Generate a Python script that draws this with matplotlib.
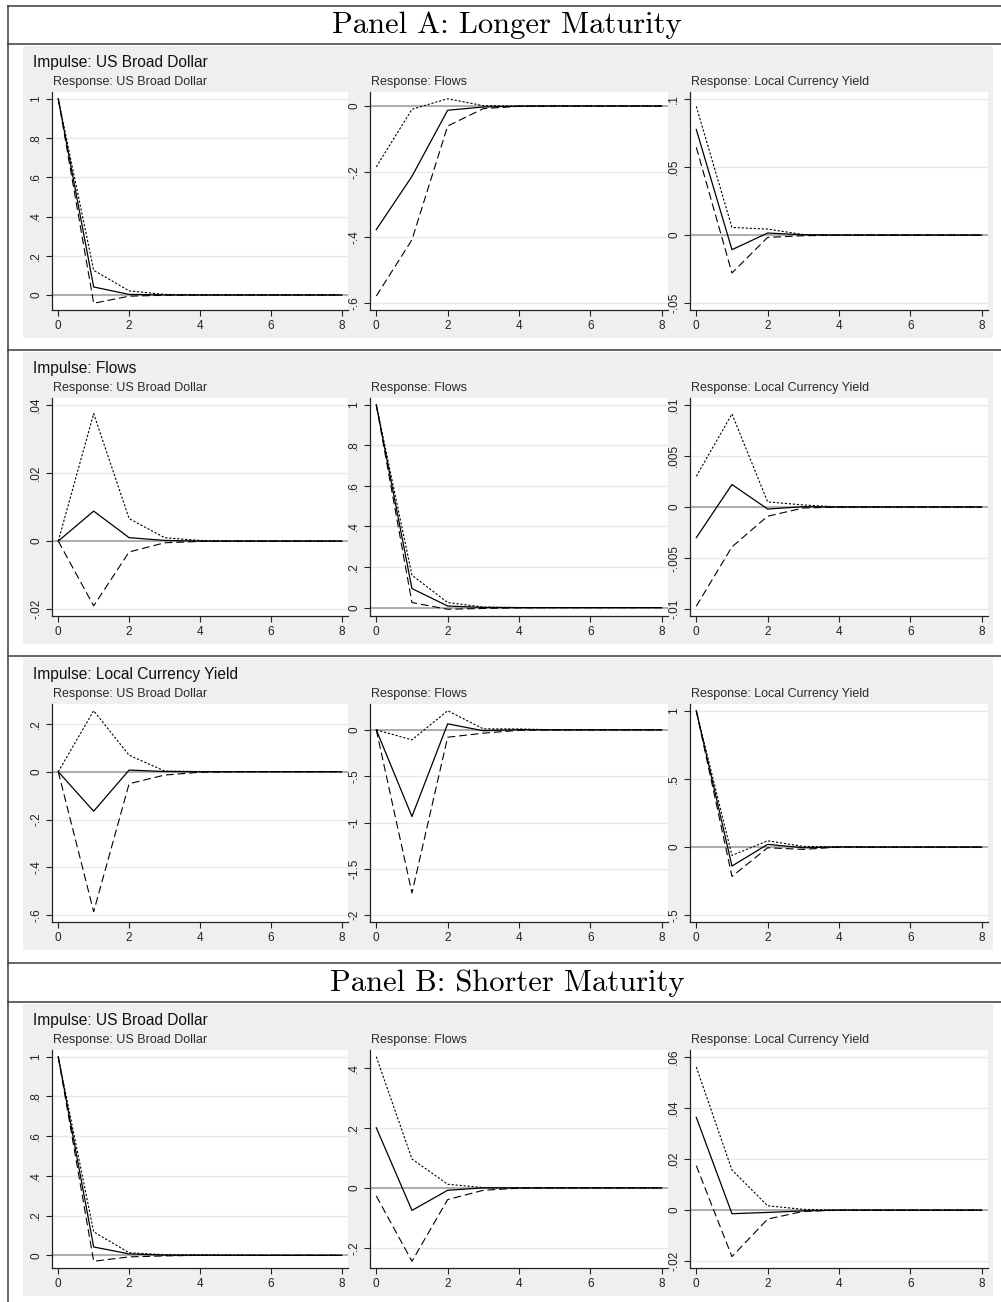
#Impulse response grid (Stata-style) rebuilt with matplotlib
import numpy as np
import matplotlib.pyplot as plt
from matplotlib.patches import Rectangle

plt.rcParams['font.family'] = ['Liberation Sans', 'DejaVu Sans']

horizon = np.arange(9)

#Panel A, impulse: US Broad Dollar
a_usd_usd = [1, 0.041, 0.003, 0.0005, 0, 0, 0, 0, 0]
a_usd_usd_hi = [1, 0.126, 0.021, 0.003, 0.0005, 0, 0, 0, 0]
a_usd_usd_lo = [1, -0.042, -0.006, -0.001, 0, 0, 0, 0, 0]
a_usd_flows = [-0.376, -0.214, -0.013, -0.003, -0.0005, 0, 0, 0, 0]
a_usd_flows_hi = [-0.185, -0.010, 0.022, 0.001, 0, 0, 0, 0, 0]
a_usd_flows_lo = [-0.578, -0.407, -0.061, -0.008, -0.001, 0, 0, 0, 0]
a_usd_lcy = [0.0775, -0.0107, 0.0015, 0.0002, 0, 0, 0, 0, 0]
a_usd_lcy_hi = [0.0944, 0.0056, 0.0044, 0.0004, 0, 0, 0, 0, 0]
a_usd_lcy_lo = [0.0644, -0.0278, -0.0017, -0.0005, 0, 0, 0, 0, 0]

#Panel A, impulse: Flows
a_flows_usd = [0, 0.0088, 0.001, 0.0002, 0, 0, 0, 0, 0]
a_flows_usd_hi = [0, 0.0374, 0.0066, 0.001, 0.0002, 0, 0, 0, 0]
a_flows_usd_lo = [0, -0.019, -0.0032, -0.0005, -0.0001, 0, 0, 0, 0]
a_flows_flows = [1, 0.094, 0.008, 0.001, 0, 0, 0, 0, 0]
a_flows_flows_hi = [1, 0.16, 0.025, 0.003, 0.0005, 0, 0, 0, 0]
a_flows_flows_lo = [1, 0.025, -0.008, -0.004, -0.001, 0, 0, 0, 0]
a_flows_lcy = [-0.0030, 0.0022, -0.0002, 0.00003, 0, 0, 0, 0, 0]
a_flows_lcy_hi = [0.003, 0.0091, 0.0005, 0.0002, 0, 0, 0, 0, 0]
a_flows_lcy_lo = [-0.0097, -0.0039, -0.0009, -0.0001, 0, 0, 0, 0, 0]

#Panel A, impulse: Local Currency Yield
a_lcy_usd = [0, -0.165, 0.007, 0.001, 0, 0, 0, 0, 0]
a_lcy_usd_hi = [0, 0.255, 0.069, 0.003, 0.001, 0, 0, 0, 0]
a_lcy_usd_lo = [0, -0.585, -0.05, -0.014, -0.002, 0, 0, 0, 0]
a_lcy_flows = [0, -0.935, 0.065, -0.01, 0.002, 0, 0, 0, 0]
a_lcy_flows_hi = [0, -0.108, 0.206, 0.011, 0.01, 0, 0, 0, 0]
a_lcy_flows_lo = [0, -1.76, -0.08, -0.036, -0.005, 0, 0, 0, 0]
a_lcy_lcy = [1, -0.139, 0.02, -0.005, 0.001, 0, 0, 0, 0]
a_lcy_lcy_hi = [1, -0.061, 0.046, 0.005, 0.002, 0, 0, 0, 0]
a_lcy_lcy_lo = [1, -0.215, -0.005, -0.017, 0, 0, 0, 0, 0]

#Panel B, impulse: US Broad Dollar
b_usd_usd = [1, 0.042, 0.007, 0.001, 0, 0, 0, 0, 0]
b_usd_usd_hi = [1, 0.118, 0.013, 0.003, 0.003, 0.001, 0, 0, 0]
b_usd_usd_lo = [1, -0.03, -0.008, -0.003, 0, 0, 0, 0, 0]
b_usd_flows = [0.2, -0.075, -0.008, 0, 0, 0, 0, 0, 0]
b_usd_flows_hi = [0.436, 0.096, 0.012, 0.001, 0, 0, 0, 0, 0]
b_usd_flows_lo = [-0.027, -0.244, -0.039, -0.008, -0.001, 0, 0, 0, 0]
b_usd_lcy = [0.0363, -0.0014, -0.0009, -0.0003, 0, 0, 0, 0, 0]
b_usd_lcy_hi = [0.056, 0.0157, 0.0017, 0.0003, 0, 0, 0, 0, 0]
b_usd_lcy_lo = [0.0174, -0.0182, -0.0035, -0.0005, 0, 0, 0, 0, 0]

#y ticks of each panel
ticks_unit = [0, 0.2, 0.4, 0.6, 0.8, 1]
ticks_a_usd_flows = [-0.6, -0.4, -0.2, 0]
ticks_a_usd_lcy = [-0.05, 0, 0.05, 0.1]
ticks_a_flows_usd = [-0.02, 0, 0.02, 0.04]
ticks_a_flows_lcy = [-0.01, -0.005, 0, 0.005, 0.01]
ticks_a_lcy_usd = [-0.6, -0.4, -0.2, 0, 0.2]
ticks_a_lcy_flows = [-2, -1.5, -1, -0.5, 0]
ticks_a_lcy_lcy = [-0.5, 0, 0.5, 1]
ticks_b_usd_flows = [-0.2, 0, 0.2, 0.4]
ticks_b_usd_lcy = [-0.02, 0, 0.02, 0.04, 0.06]

responses = ['US Broad Dollar', 'Flows', 'Local Currency Yield']

rows = [
    ('Impulse: US Broad Dollar', [
        (a_usd_usd, a_usd_usd_hi, a_usd_usd_lo, ticks_unit),
        (a_usd_flows, a_usd_flows_hi, a_usd_flows_lo, ticks_a_usd_flows),
        (a_usd_lcy, a_usd_lcy_hi, a_usd_lcy_lo, ticks_a_usd_lcy)]),
    ('Impulse: Flows', [
        (a_flows_usd, a_flows_usd_hi, a_flows_usd_lo, ticks_a_flows_usd),
        (a_flows_flows, a_flows_flows_hi, a_flows_flows_lo, ticks_unit),
        (a_flows_lcy, a_flows_lcy_hi, a_flows_lcy_lo, ticks_a_flows_lcy)]),
    ('Impulse: Local Currency Yield', [
        (a_lcy_usd, a_lcy_usd_hi, a_lcy_usd_lo, ticks_a_lcy_usd),
        (a_lcy_flows, a_lcy_flows_hi, a_lcy_flows_lo, ticks_a_lcy_flows),
        (a_lcy_lcy, a_lcy_lcy_hi, a_lcy_lcy_lo, ticks_a_lcy_lcy)]),
    ('Impulse: US Broad Dollar', [
        (b_usd_usd, b_usd_usd_hi, b_usd_usd_lo, ticks_unit),
        (b_usd_flows, b_usd_flows_hi, b_usd_flows_lo, ticks_b_usd_flows),
        (b_usd_lcy, b_usd_lcy_hi, b_usd_lcy_lo, ticks_b_usd_lcy)]),
]


def stata_fmt(v):
    s = '%g' % v
    if s.startswith('0.'):
        s = s[1:]
    elif s.startswith('-0.'):
        s = '-' + s[2:]
    return s


W, H = 1001, 1302
fig = plt.figure(figsize=(W / 100, H / 100), dpi=100)

#background layer in pixel coordinates
bg = fig.add_axes([0, 0, 1, 1])
bg.set_xlim(0, W)
bg.set_ylim(H, 0)
bg.axis('off')

frame_col = '#3c3c3c'
row_tops = [44, 350, 656, 1002]
col_edges = [(52, 348), (370, 668), (690, 988)]

for y in [6, 44, 350, 656, 963, 1002]:
    bg.plot([8, W], [y, y], color=frame_col, lw=1.1)
bg.plot([8, 8], [6, H], color=frame_col, lw=1.1)

bg.text(507, 25, 'Panel A: Longer Maturity', family='cmr10', fontsize=22,
        ha='center', va='center')
bg.text(507, 983, 'Panel B: Shorter Maturity', family='cmr10', fontsize=22,
        ha='center', va='center')

for top, (imp_title, panels) in zip(row_tops, rows):
    bg.add_patch(Rectangle((23, top + 2), 970, 292, color='#efefef', lw=0))
    bg.text(33, top + 18, imp_title, fontsize=11.2, color='#111111',
            ha='left', va='center')
    for (l, r), resp, (irf, hi, lo, ticks) in zip(col_edges, responses, panels):
        bg.text(l + 1, top + 38, 'Response: ' + resp, fontsize=9,
                color='#2a2a2a', ha='left', va='center')
        t, b = top + 48, top + 266
        ax = fig.add_axes([l / W, 1 - b / H, (r - l) / W, (b - t) / H])
        ax.set_facecolor('white')

        y_lo = min(min(irf), min(hi), min(lo), ticks[0])
        y_hi = max(max(irf), max(hi), max(lo), ticks[-1])
        pad = (y_hi - y_lo) * 0.033
        ax.set_ylim(y_lo - pad, y_hi + pad)
        ax.set_xlim(-8 * 0.022, 8 + 8 * 0.022)

        ax.grid(axis='y', color='#e8e8e8', lw=1)
        ax.set_axisbelow(True)
        ax.axhline(0, color='#a8a8a8', lw=1.3, zorder=1.5)

        ax.plot(horizon, hi, color='black', lw=0.8, ls=(0, (2, 1.6)), zorder=3)
        ax.plot(horizon, lo, color='black', lw=0.8, ls=(0, (7, 3.5)), zorder=3)
        ax.plot(horizon, irf, color='black', lw=0.9, zorder=4)

        ax.set_xticks([0, 2, 4, 6, 8])
        ax.set_yticks(ticks)
        ax.set_yticklabels([stata_fmt(v) for v in ticks], rotation=90,
                           va='center')
        ax.tick_params(length=4, width=0.8, labelsize=8.5, colors='#222222',
                       pad=3)
        for side in ['top', 'right']:
            ax.spines[side].set_visible(False)
        for side in ['left', 'bottom']:
            ax.spines[side].set_color('#222222')
            ax.spines[side].set_linewidth(0.9)

fig.savefig('out.png', dpi=100)
